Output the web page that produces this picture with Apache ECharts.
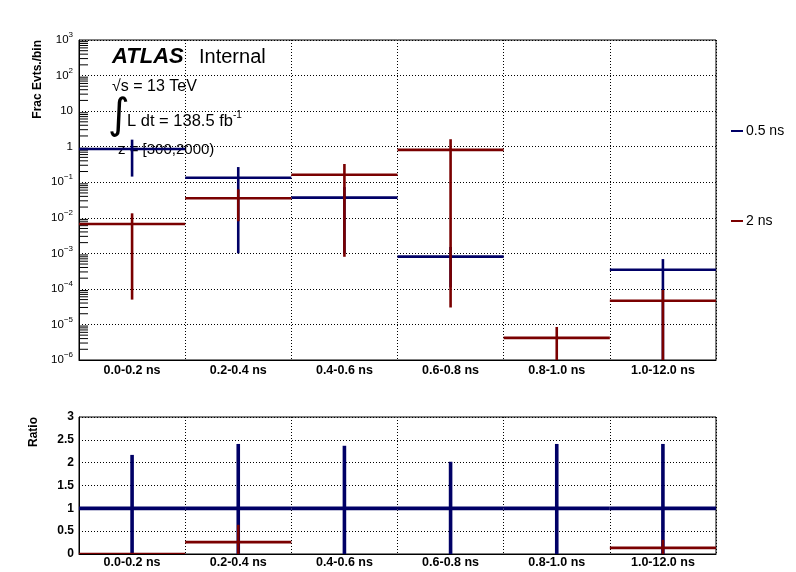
<!DOCTYPE html>
<html><head><meta charset="utf-8">
<script src="https://cdn.jsdelivr.net/npm/echarts@6/dist/echarts.min.js"></script>
<style>html,body{margin:0;padding:0;background:#fff}#c{width:796px;height:572px}</style>
</head><body><div id="c"></div>
<script>
// ---- data ----
const bins = ['0.0-0.2 ns', '0.2-0.4 ns', '0.4-0.6 ns', '0.6-0.8 ns', '0.8-1.0 ns', '1.0-12.0 ns'];
const seriesNames = ['0.5 ns', '2 ns'];
const frac05 = [0.86, 0.134, 0.037, 0.00081, null, 0.000345];
const frac05Err = [0.716, 0.133, 0.036, 0.0007, null, 0.000345];
const frac2 = [0.0067, 0.0355, 0.163, 0.81, 0.0000042, 0.0000465];
const frac2Err = [0.00665, 0.0275, 0.1622, 0.80997, 0.0000043, 0.0000465];
const ratio05 = [1, 1, 1, 1, 1, 1];
const ratio05Err = [1.17, 1.41, 1.37, 1.02, 1.41, 1.41];
const ratio2 = [0, 0.26, null, null, null, 0.135];
const ratio2Err = [0, 0.38, null, null, null, 0.175];
const logTickExp = [-6, -5, -4, -3, -2, -1, 0, 1, 2, 3];
const ratioTicks = [0, 0.5, 1, 1.5, 2, 2.5, 3];

const BLUE = '#000066', RED = '#7a0000';
const FONT = 'Liberation Sans';

function toData(vals, errs) {
  const out = [];
  vals.forEach((v, i) => { if (v !== null) out.push([i, v, errs[i]]); });
  return out;
}
function errBar(color, lw) {
  return function (params, api) {
    const i = api.value(0), v = api.value(1), e = api.value(2);
    const cs = params.coordSys;
    const bw = api.size([1, 0])[0];
    const p = api.coord([i, v]);
    const bottom = cs.y + cs.height, top = cs.y;
    let yTop = api.coord([i, v + e])[1];
    let yBot = (v - e) > 0 ? api.coord([i, v - e])[1] : bottom;
    yTop = Math.max(top, yTop); yBot = Math.min(bottom, yBot);
    const st = { stroke: color, lineWidth: lw };
    return { type: 'group', children: [
      { type: 'line', shape: { x1: p[0] - bw / 2, y1: p[1], x2: p[0] + bw / 2, y2: p[1] }, style: st },
      { type: 'line', shape: { x1: p[0], y1: yTop, x2: p[0], y2: yBot }, style: st }
    ] };
  };
}
// minor log ticks (axis decoration)
const minorVals = [];
for (let k = logTickExp[0]; k < logTickExp[logTickExp.length - 1]; k++)
  for (let m = 2; m <= 9; m++) minorVals.push([0, m * Math.pow(10, k)]);

const chart = echarts.init(document.getElementById('c'));
const dotted = { color: '#000', width: 1, type: [1, 2] };
const supFmt = function (v) {
  const e = Math.round(Math.log10(v));
  if (e === 0) return '{b|1}';
  if (e === 1) return '{b|10}';
  return '{b|10}{s|' + String(e).replace('-', '\u2212') + '}';
};

chart.setOption({
  animation: false,
  textStyle: { fontFamily: FONT },
  grid: [
    { left: 79, top: 40, width: 637, height: 320, show: true, borderColor: '#000', borderWidth: 1 },
    { left: 79, top: 417, width: 637, height: 137, show: true, borderColor: '#000', borderWidth: 1 }
  ],
  legend: [
    { data: [seriesNames[0]], left: 726, top: 119, icon: 'rect', itemWidth: 12, itemHeight: 2, itemGap: 3,
      textStyle: { fontFamily: FONT, fontSize: 14, color: '#000', padding: [0, 0, 0, -2] }, selectedMode: false },
    { data: [seriesNames[1]], left: 726, top: 209, icon: 'rect', itemWidth: 12, itemHeight: 2, itemGap: 3,
      textStyle: { fontFamily: FONT, fontSize: 14, color: '#000', padding: [0, 0, 0, -2] }, selectedMode: false }
  ],
  xAxis: [
    { type: 'category', gridIndex: 0, data: bins, boundaryGap: true,
      axisLine: { lineStyle: { color: '#000' } },
      axisTick: { inside: true, length: 10, lineStyle: { color: '#000' } },
      axisLabel: { fontFamily: FONT, fontWeight: 'bold', fontSize: 12.5, color: '#000', margin: 4 },
      splitLine: { show: true, lineStyle: dotted } },
    { type: 'category', gridIndex: 1, data: bins, boundaryGap: true,
      axisLine: { lineStyle: { color: '#000' } },
      axisTick: { inside: true, length: 7, lineStyle: { color: '#000' } },
      axisLabel: { fontFamily: FONT, fontWeight: 'bold', fontSize: 12.5, color: '#000', margin: 2 },
      splitLine: { show: true, lineStyle: dotted } }
  ],
  yAxis: [
    { type: 'log', gridIndex: 0, logBase: 10, min: Math.pow(10, logTickExp[0]), max: Math.pow(10, logTickExp[logTickExp.length - 1]), splitNumber: 9,
      axisLine: { show: true, lineStyle: { color: '#000' } },
      axisTick: { inside: true, length: 18, lineStyle: { color: '#000' } },
      axisLabel: { formatter: supFmt, margin: 6, color: '#000',
        rich: { b: { fontFamily: FONT, fontSize: 11.5, lineHeight: 18, color: '#000' },
                s: { fontFamily: FONT, fontSize: 8, lineHeight: 8, padding: [0, 0, 10, 0], color: '#000' } } },
      splitLine: { show: true, lineStyle: dotted } },
    { type: 'value', gridIndex: 1, min: ratioTicks[0], max: ratioTicks[ratioTicks.length - 1], interval: 0.5,
      axisLine: { show: true, lineStyle: { color: '#000' } },
      axisTick: { inside: true, length: 18, lineStyle: { color: '#000' } },
      axisLabel: { fontFamily: FONT, fontWeight: 'bold', fontSize: 12, color: '#000', margin: 5 },
      splitLine: { show: true, lineStyle: dotted } }
  ],
  series: [
    { type: 'custom', name: 'minor', xAxisIndex: 0, yAxisIndex: 0, silent: true, encode: { x: 0, y: 1 },
      data: minorVals,
      renderItem: function (params, api) {
        const cs = params.coordSys;
        const y = api.coord([0, api.value(1)])[1];
        return { type: 'line', shape: { x1: cs.x, y1: y, x2: cs.x + 9, y2: y }, style: { stroke: '#000', lineWidth: 1 } };
      } },
    { type: 'custom', name: seriesNames[0], xAxisIndex: 0, yAxisIndex: 0, encode: { x: 0, y: 1 }, clip: true,
      itemStyle: { color: BLUE }, data: toData(frac05, frac05Err), renderItem: errBar(BLUE, 2.6) },
    { type: 'custom', name: seriesNames[1], xAxisIndex: 0, yAxisIndex: 0, encode: { x: 0, y: 1 }, clip: true,
      itemStyle: { color: RED }, data: toData(frac2, frac2Err), renderItem: errBar(RED, 2.6) },
    { type: 'custom', name: seriesNames[0], xAxisIndex: 1, yAxisIndex: 1, encode: { x: 0, y: 1 }, clip: true,
      itemStyle: { color: BLUE }, data: toData(ratio05, ratio05Err), renderItem: errBar(BLUE, 3.6) },
    { type: 'custom', name: seriesNames[1], xAxisIndex: 1, yAxisIndex: 1, encode: { x: 0, y: 1 }, clip: true,
      itemStyle: { color: RED }, data: toData(ratio2, ratio2Err), renderItem: errBar(RED, 2.6) }
  ],
  graphic: [
    { type: 'text', x: 38, y: 40, rotation: Math.PI / 2, style: { text: 'Frac Evts./bin', font: 'bold 12px "Liberation Sans"', fill: '#000', align: 'right', verticalAlign: 'middle' } },
    { type: 'text', x: 34, y: 417, rotation: Math.PI / 2, style: { text: 'Ratio', font: 'bold 12px "Liberation Sans"', fill: '#000', align: 'right', verticalAlign: 'middle' } },
    { type: 'text', x: 112, y: 57, style: { text: 'ATLAS', font: 'italic bold 22px "Liberation Sans"', fill: '#000', verticalAlign: 'middle' } },
    { type: 'text', x: 199, y: 57, style: { text: 'Internal', font: '20px "Liberation Sans"', fill: '#000', verticalAlign: 'middle' } },
    { type: 'text', x: 112, y: 87, style: { text: '\u221As = 13 TeV', font: '16px "Liberation Sans"', fill: '#000', verticalAlign: 'middle' } },
    { type: 'text', x: 108, y: 117, style: { text: '\u222B', font: '42px "DejaVu Sans"', fill: '#000', verticalAlign: 'middle' } },
    { type: 'text', x: 127, y: 121, style: { text: 'L dt = 138.5 fb', font: '16.5px "Liberation Sans"', fill: '#000', verticalAlign: 'middle' } },
    { type: 'text', x: 233, y: 115, style: { text: '-1', font: '10px "Liberation Sans"', fill: '#000', verticalAlign: 'middle' } },
    { type: 'text', x: 118, y: 150, style: { text: 'z = [300,2000)', font: '15px "Liberation Sans"', fill: '#000', verticalAlign: 'middle' } }
  ]
});
</script></body></html>
